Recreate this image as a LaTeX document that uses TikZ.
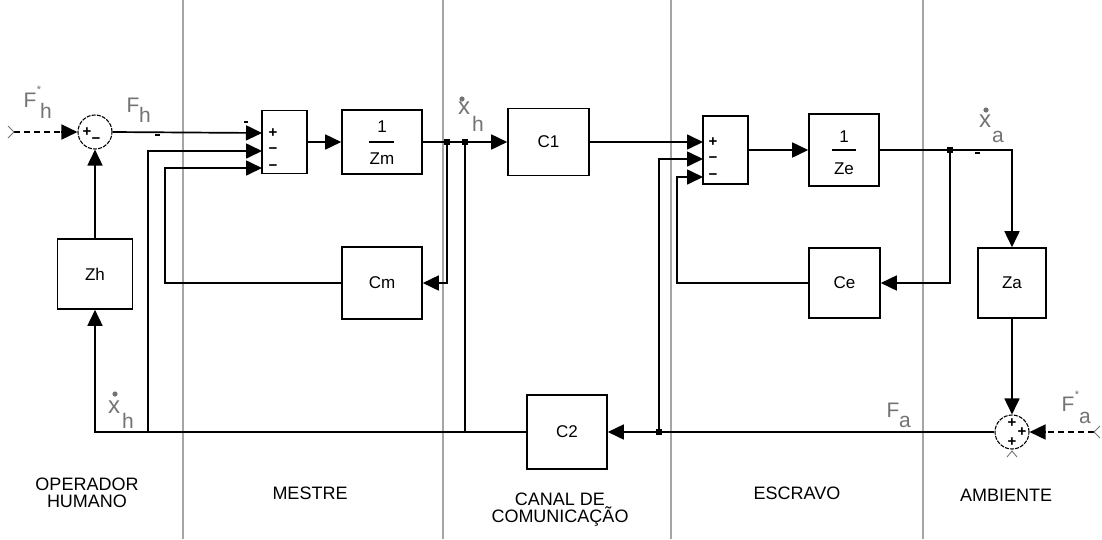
\documentclass[tikz,border=0pt]{standalone}
\usepackage{fontspec}
\setmainfont{Liberation Sans}
\usetikzlibrary{arrows.meta,calc}
\definecolor{secgray}{RGB}{165,165,165}
\definecolor{siggray}{RGB}{115,115,115}
\tikzset{
 blk/.style={draw,line width=1.6pt,rectangle,inner sep=0pt,font=\fontsize{17}{17}\selectfont},
 sumc/.style={draw,circle,line width=1.1pt,dash pattern=on 4pt off 1.2pt,minimum size=34pt,inner sep=0pt},
 wire/.style={line width=1.7pt},
 arr/.style={wire,-{Triangle[length=16pt,width=15pt]}},
 dwire/.style={line width=1.3pt,dash pattern=on 6pt off 4pt},
 sect/.style={draw=secgray,line width=2.2pt},
 sig/.style={text=siggray,font=\fontsize{21}{21}\selectfont,inner sep=0pt},
 sigx/.style={text=siggray,font=\fontsize{24}{24}\selectfont,inner sep=0pt},
 sigsm/.style={text=siggray,font=\fontsize{11}{11}\selectfont,inner sep=0pt},
 sgn/.style={font=\fontsize{15}{15}\selectfont\bfseries,inner sep=0pt},
 csgn/.style={font=\fontsize{15}{15}\selectfont\bfseries,inner sep=0pt},
 zone/.style={font=\fontsize{18}{17}\selectfont,align=center,inner sep=0pt},
 jdot/.style={fill,minimum size=6pt,inner sep=0pt,rectangle},
 endmark/.style={line width=0.9pt,draw=siggray},
 tick/.style={line width=2pt}
}
\begin{document}
\begin{tikzpicture}[x=1pt,y=-1pt]
\useasboundingbox (0,0) rectangle (1102,539);
% section separators
\draw[sect] (183,0) -- (183,539);
\draw[sect] (443,0) -- (443,539);
\draw[sect] (671,0) -- (671,539);
\draw[sect] (923,0) -- (923,539);

% blocks
\node[sumc] (sum1) at (95,132) {};
\node[blk,minimum width=75pt,minimum height=70pt] (zh) at (95,274) {Zh};
\node[blk,minimum width=45pt,minimum height=63pt] (s1) at (284.5,142) {};
\node[blk,minimum width=80pt,minimum height=64pt] (zm) at (382,142) {};
\node[blk,minimum width=80pt,minimum height=72pt] (cm) at (382,283) {Cm};
\node[blk,minimum width=81pt,minimum height=67pt] (c1) at (548.5,142) {C1};
\node[blk,minimum width=80pt,minimum height=74pt] (c2) at (567,432) {C2};
\node[blk,minimum width=45pt,minimum height=68pt] (s2) at (725.5,150) {};
\node[blk,minimum width=70pt,minimum height=72pt] (ze) at (844,150) {};
\node[blk,minimum width=71pt,minimum height=70pt] (ce) at (844.5,283) {Ce};
\node[blk,minimum width=68pt,minimum height=70pt] (za) at (1012,283) {Za};
\node[sumc] (sum2) at (1012,432) {};

% fractions inside 1/Zm and 1/Ze
\node[inner sep=0pt,font=\fontsize{17}{17}\selectfont] (zm1) at (382,127) {1};
\node[inner sep=0pt,font=\fontsize{17}{17}\selectfont] (zm2) at (382,159) {Zm};
\draw[line width=1.4pt] (369,142) -- (394,142);
\node[inner sep=0pt,font=\fontsize{17}{17}\selectfont] (ze1) at (844,137) {1};
\node[inner sep=0pt,font=\fontsize{17}{17}\selectfont] (ze2) at (844,169) {Ze};
\draw[line width=1.4pt] (832,150) -- (856,150);

% signs
\node[sgn] (p11) at (273,133) {+};
\node[sgn] (p12) at (273,151) {−};
\node[sgn] (p13) at (273,168) {−};
\node[sgn] (p21) at (713,142) {+};
\node[sgn] (p22) at (713,159.5) {−};
\node[sgn] (p23) at (713,177) {−};
\node[csgn] (c1p) at (87,132) {+};
\node[csgn] (c1m) at (96,141) {−};
\node[csgn] (c2a) at (1012,423) {+};
\node[csgn] (c2b) at (1022,432) {+};
\node[csgn] (c2c) at (1012,442) {+};

% small stray ticks
\draw[tick] (155,135) -- (160,135);
\draw[tick] (244,122) -- (248,122);
\draw[tick] (975,153) -- (980,153);

% coordinates
\coordinate (s1a) at (262,133);
\coordinate (s1b) at (262,151);
\coordinate (s1c) at (262,168);
\coordinate (s2a) at (703,142);
\coordinate (s2b) at (703,159);
\coordinate (s2c) at (703,177);
\coordinate (inFh) at (14,132);
\coordinate (inFa) at (1094,432);
\coordinate (cmL) at (165,283);
\coordinate (ceL) at (677,283);
\coordinate (b1) at (148,432);
\coordinate (b2) at (465,432);
\node[jdot] (j1) at (447,142) {};
\node[jdot] (j2) at (465,142) {};
\node[jdot] (j3) at (950,150) {};
\node[jdot] (j4) at (659,432) {};

% connectors - operator / master
\draw[dwire] (inFh) -- ($(sum1.west)+(-14,0)$);
\draw[arr] ($(sum1.west)+(-16,0)$) -- (sum1.west);
\draw[arr] (sum1.east) -- (s1a);
\draw[arr] (zh.north) -- (sum1.south);
\draw[arr] (s1.east) -- (zm.west);
\draw[wire] (zm.east) -- (j2.center);
\draw[arr] (j2.center) -- (c1.west);
\draw[arr] (j1.center) |- (cm.east);
\draw[arr] (cm.west) -- (cmL) |- (s1c);
\draw[wire] (j2.center) -- (b2);
\draw[arr] (c2.west) -| (zh.south);
\draw[arr] (b1) |- (s1b);

% slave / environment
\draw[arr] (c1.east) -- (s2a);
\draw[arr] (s2.east) -- (ze.west);
\draw[arr] (ze.east) -| (za.north);
\draw[arr] (j3.center) |- (ce.east);
\draw[arr] (ce.west) -- (ceL) |- (s2c);
\draw[arr] (za.south) -- (sum2.north);
\draw[arr] (sum2.west) -- (c2.east);
\draw[arr] (j4.center) |- (s2b);
\draw[dwire] (inFa) -- ($(sum2.east)+(14,0)$);
\draw[arr] ($(sum2.east)+(16,0)$) -- (sum2.east);

% open end markers
\draw[endmark] (8,126) -- (14,132) -- (8,138);
\draw[endmark] (1100,426) -- (1094,432) -- (1100,438);
\draw[endmark] (1007,457) -- (1012,451) -- (1017,457);

% signal labels
\node[sig] (lFh1) at (30,100) {F};
\node[sigsm] (lFh2) at (39,90) {*};
\node[sig] (lFh3) at (46,111) {h};
\node[sig] (lFha) at (133,105) {F};
\node[sig] (lFhb) at (145,115) {h};
\node[sigx] (lxt1) at (464,108) {x};
\node[sig] (lxt2) at (478,124) {h};
\fill[siggray] (462,99) circle (2.6pt);
\node[sigx] (lxb1) at (114,407) {x};
\node[sig] (lxb2) at (128,421) {h};
\fill[siggray] (115,394) circle (2.6pt);
\node[sigx] (lxa1) at (985,121) {x};
\node[sig] (lxa2) at (998,137) {a};
\fill[siggray] (986,110) circle (2.6pt);
\node[sig] (lFa1) at (893,410) {F};
\node[sig] (lFa2) at (905,422) {a};
\node[sig] (lFs1) at (1068,404) {F};
\node[sigsm] (lFs2) at (1077,395) {*};
\node[sig] (lFs3) at (1085,418) {a};

% zone labels
\node[zone] (zop) at (87,493) {OPERADOR\\HUMANO};
\node[zone] (zme) at (310,493) {MESTRE};
\node[zone] (zca) at (560,510) {CANAL DE\\COMUNICAÇÃO};
\node[zone] (zes) at (797,493) {ESCRAVO};
\node[zone] (zam) at (1006,495) {AMBIENTE};
\end{tikzpicture}
\end{document}
